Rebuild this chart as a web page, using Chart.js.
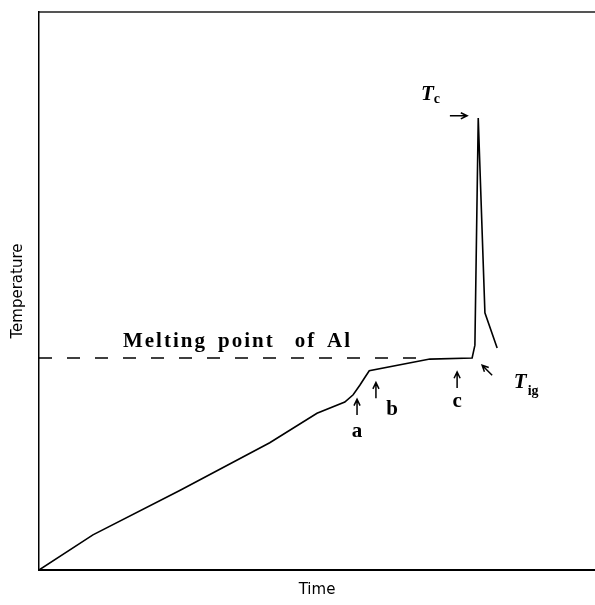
<!DOCTYPE html>
<html>
<head>
<meta charset="utf-8">
<script src="https://cdn.jsdelivr.net/npm/chart.js@4.4.1/dist/chart.umd.min.js"></script>
<style>
    html, body { margin: 0; padding: 0; background: #fff; }
    #wrap { width: 595px; height: 605px; }
</style>
</head>
<body>
<div id="wrap"><canvas id="myChart" width="595" height="605"></canvas></div>
<script>
// heating curve (arbitrary units 0..100)
const timeValues = [0, 9.7, 25.4, 41.5, 50.0, 55.0, 56.5, 57.7, 58.6, 59.4, 70.3, 77.9, 78.4, 79.0, 80.2, 82.4];
const tempValues = [0, 6.3, 14.3, 22.8, 28.1, 30.1, 31.4, 33.1, 34.5, 35.7, 37.8, 38.0, 40.3, 81.0, 46.1, 39.8];
const meltingPoint = 38.0;
const meltingLineX = [0, 70.3];

// arrows [x1, y1, x2, y2] in data units, head at the second point
const arrows = [
    [57.2, 27.8, 57.2, 30.6],
    [60.6, 30.8, 60.6, 33.6],
    [75.2, 32.6, 75.2, 35.5],
    [81.5, 34.9, 79.7, 36.7],
    [73.9, 81.4, 77.0, 81.4]
];

// text labels: text, x, y, font, align, letter spacing
const serif = '"Liberation Serif", "DejaVu Serif", serif';
const labels = [
    ['Melting', 15.1, 40.0, 'bold 21px ' + serif, 'left', '2px'],
    ['point', 32.2, 40.0, 'bold 21px ' + serif, 'left', '2px'],
    ['of', 46.0, 40.0, 'bold 21px ' + serif, 'left', '2px'],
    ['Al', 51.8, 40.0, 'bold 21px ' + serif, 'left', '2px'],
    ['a', 57.2, 23.8, 'bold 21px ' + serif, 'center', '0px'],
    ['b', 63.5, 27.8, 'bold 21px ' + serif, 'center', '0px'],
    ['c', 75.2, 29.2, 'bold 21px ' + serif, 'center', '0px'],
    ['T', 68.7, 84.2, 'italic bold 21px ' + serif, 'left', '0px'],
    ['c', 71.0, 83.7, 'bold 14px ' + serif, 'left', '0px'],
    ['T', 85.4, 32.6, 'italic bold 21px ' + serif, 'left', '0px'],
    ['ig', 87.9, 31.4, 'bold 14px ' + serif, 'left', '0px']
];

const annotate = {
    id: 'annotate',
    afterDatasetsDraw(chart) {
        const ctx = chart.ctx;
        const xs = chart.scales.x, ys = chart.scales.y;
        ctx.save();
        ctx.strokeStyle = '#000';
        ctx.fillStyle = '#000';
        ctx.lineWidth = 1.5;
        arrows.forEach(a => {
            const x1 = xs.getPixelForValue(a[0]), y1 = ys.getPixelForValue(a[1]);
            const x2 = xs.getPixelForValue(a[2]), y2 = ys.getPixelForValue(a[3]);
            const ang = Math.atan2(y2 - y1, x2 - x1);
            const h = 7;
            ctx.beginPath();
            ctx.moveTo(x1, y1);
            ctx.lineTo(x2, y2);
            ctx.moveTo(x2 - h * Math.cos(ang - 0.45), y2 - h * Math.sin(ang - 0.45));
            ctx.lineTo(x2, y2);
            ctx.lineTo(x2 - h * Math.cos(ang + 0.45), y2 - h * Math.sin(ang + 0.45));
            ctx.stroke();
        });
        ctx.textBaseline = 'alphabetic';
        labels.forEach(l => {
            ctx.font = l[3];
            ctx.textAlign = l[4];
            ctx.letterSpacing = l[5];
            ctx.fillText(l[0], xs.getPixelForValue(l[1]), ys.getPixelForValue(l[2]));
        });
        ctx.restore();
    }
};

const ctx = document.getElementById('myChart').getContext('2d');

new Chart(ctx, {
    type: 'line',
    data: {
        datasets: [{
            data: timeValues.map((t, i) => ({ x: t, y: tempValues[i] })),
            borderColor: '#000',
            borderWidth: 1.6,
            pointRadius: 0,
            tension: 0
        }, {
            data: meltingLineX.map(t => ({ x: t, y: meltingPoint })),
            borderColor: '#000',
            borderWidth: 1.6,
            borderDash: [13, 15],
            pointRadius: 0
        }]
    },
    options: {
        responsive: false,
        animation: false,
        layout: { padding: 0 },
        plugins: {
            legend: { display: false },
            tooltip: { enabled: false }
        },
        scales: {
            x: {
                type: 'linear',
                position: 'bottom',
                min: 0,
                max: 100,
                grid: { display: false },
                ticks: { display: false },
                border: { color: '#000', width: 2 },
                title: {
                    display: true,
                    text: 'Time',
                    color: '#000',
                    font: { family: '"DejaVu Sans", sans-serif', size: 15 },
                    padding: { top: 0, bottom: 6 }
                },
                afterFit: (s) => { s.height = 35; }
            },
            xTop: {
                type: 'linear',
                position: 'top',
                min: 0,
                max: 100,
                grid: { display: false },
                ticks: { display: false },
                border: { color: '#555', width: 2 },
                afterFit: (s) => { s.height = 12; }
            },
            y: {
                min: 0,
                max: 100,
                grid: { display: false },
                ticks: { display: false },
                border: { color: '#000', width: 1.5 },
                title: {
                    display: true,
                    text: 'Temperature',
                    color: '#000',
                    font: { family: '"DejaVu Sans", sans-serif', size: 15 },
                    padding: { top: 9, bottom: 0 }
                },
                afterFit: (s) => { s.width = 39; }
            }
        }
    },
    plugins: [annotate]
});
</script>
</body>
</html>
